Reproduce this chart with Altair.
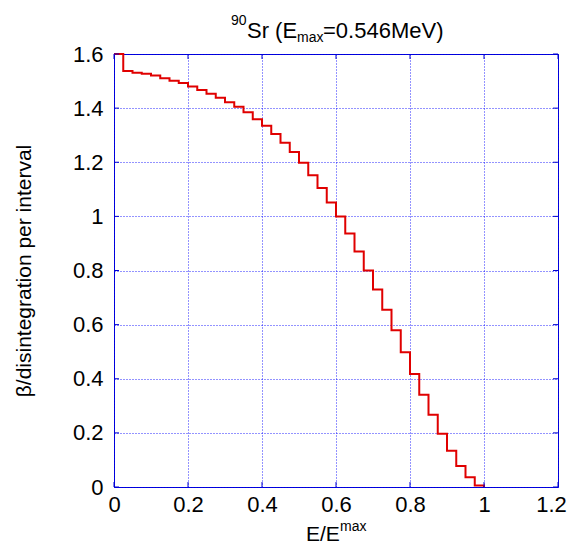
import altair as alt
import pandas as pd

# ---- data ----
x_edges = [0.000, 0.025, 0.050, 0.075, 0.100, 0.125, 0.150, 0.175, 0.200, 0.225,
           0.250, 0.275, 0.300, 0.325, 0.350, 0.375, 0.400, 0.425, 0.450, 0.475,
           0.500, 0.525, 0.550, 0.575, 0.600, 0.625, 0.650, 0.675, 0.700, 0.725,
           0.750, 0.775, 0.800, 0.825, 0.850, 0.875, 0.900, 0.925, 0.950, 0.975,
           1.000]
bin_values = [1.600, 1.537, 1.531, 1.527, 1.521, 1.510, 1.501, 1.493, 1.480, 1.467,
              1.453, 1.438, 1.422, 1.405, 1.385, 1.359, 1.335, 1.304, 1.272, 1.238,
              1.198, 1.152, 1.105, 1.051, 1.000, 0.937, 0.870, 0.800, 0.730, 0.655,
              0.579, 0.498, 0.418, 0.341, 0.267, 0.197, 0.134, 0.078, 0.036, 0.006]
end_value = [0.0]

x_ticks = [0, 0.2, 0.4, 0.6, 0.8, 1.0, 1.2]
y_ticks = [0, 0.2, 0.4, 0.6, 0.8, 1.0, 1.2, 1.4, 1.6]

title_parts = ["90", "Sr (E", "max", "=0.546MeV)"]
xtitle_parts = ["E/E", "max"]
ytitle = "β/disintegration per interval"

# ---- styling ----
W, H = 444, 433
BLUE = "#0000d0"
GRID = "#0000ff"
RED = "#e00000"
FONT = "Liberation Sans"

df = pd.DataFrame({"x": x_edges, "y": bin_values + end_value})
xt = pd.DataFrame({"t": x_ticks})
yt = pd.DataFrame({"t": y_ticks})

xs = alt.Scale(domain=[0, 1.2], nice=False, zero=False)
ys = alt.Scale(domain=[0, 1.6], nice=False, zero=False)

ax_x = alt.Axis(values=x_ticks, format="~g", title=None, grid=True,
                labelPadding=7,
                labelOffset={"condition": {"test": "datum.value >= 1.19",
                                           "value": -7}, "value": 0})
ax_y = alt.Axis(values=y_ticks, format="~g", title=ytitle, grid=True,
                labelPadding=11, titleAngle=270, titleX=-84, titleY=H / 2,
                titleAlign="center", titleBaseline="alphabetic",
                titleFontSize=21)

line = alt.Chart(df).mark_line(interpolate="step-after", color=RED,
                               strokeWidth=2).encode(
    x=alt.X("x:Q", scale=xs, axis=ax_x),
    y=alt.Y("y:Q", scale=ys, axis=ax_y),
)

tick_bottom = alt.Chart(xt).mark_rule(color=BLUE).encode(
    x=alt.X("t:Q", scale=xs, axis=ax_x), y=alt.value(H), y2=alt.value(H - 5))
tick_top = alt.Chart(xt).mark_rule(color=BLUE).encode(
    x=alt.X("t:Q", scale=xs, axis=ax_x), y=alt.value(0), y2=alt.value(5))
tick_left = alt.Chart(yt).mark_rule(color=BLUE).encode(
    y=alt.Y("t:Q", scale=ys, axis=ax_y), x=alt.value(0), x2=alt.value(5))
tick_right = alt.Chart(yt).mark_rule(color=BLUE).encode(
    y=alt.Y("t:Q", scale=ys, axis=ax_y), x=alt.value(W - 5), x2=alt.value(W))

one = alt.Data(values=[{}])


def txt(s, x, y, size):
    return alt.Chart(one).mark_text(
        text=s, align="left", baseline="alphabetic", font=FONT,
        fontSize=size, color="black").encode(x=alt.value(x), y=alt.value(y))


t1 = txt(title_parts[0], 117, -29, 14)
t2 = txt(title_parts[1], 133, -16, 22)
t3 = txt(title_parts[2], 183, -12, 14)
t4 = txt(title_parts[3], 209, -16, 22)
xl1 = txt(xtitle_parts[0], 192, 487, 21)
xl2 = txt(xtitle_parts[1], 226, 477, 14)

chart = alt.layer(
    line, tick_bottom, tick_top, tick_left, tick_right,
    t1, t2, t3, t4, xl1, xl2
).properties(
    width=W, height=H,
    padding={"left": 106, "top": 46, "right": 9, "bottom": 59},
    autosize=alt.AutoSizeParams(type="none"),
).configure_view(
    stroke=BLUE, strokeWidth=1
).configure_axis(
    domain=False, ticks=False,
    gridColor=GRID, gridDash=[1, 2], gridOpacity=0.85, gridWidth=1,
    labelFont=FONT, labelFontSize=22, labelColor="black",
    titleFont=FONT, titleColor="black", titleFontWeight="normal",
    labelFlush=False, labelOverlap=False,
)

chart.save("out.html", embed_options={"renderer": "svg", "actions": False})
